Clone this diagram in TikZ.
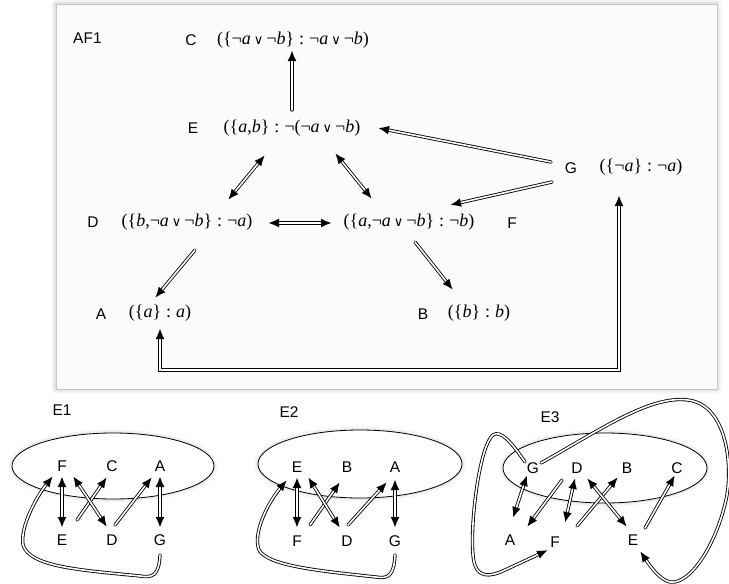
\documentclass[tikz,border=0pt]{standalone}
\usepackage{fontspec}
\setmainfont{Liberation Sans}
\newfontfamily\formfont{Liberation Serif}
\newfontfamily\symfont{DejaVu Sans}
\usetikzlibrary{arrows.meta, calc, shadows.blur}

\newcommand{\ita}{\textit{a}}
\newcommand{\itb}{\textit{b}}
\newcommand{\orop}{\,{\symfont\fontsize{13}{13}\selectfont ∨}\,}
\newcommand{\claimsep}{\;:\;}

\begin{document}
\begin{tikzpicture}[x=1pt, y=-1pt,
    tag/.style={font=\fontsize{15.5}{15.5}\selectfont, inner sep=1pt},
    claim/.style={font=\formfont\fontsize{18}{18}\selectfont, inner sep=1pt},
    frame/.style={draw=gray!45, fill=gray!3, blur shadow={shadow xshift=0pt, shadow yshift=0pt, shadow blur radius=5pt, shadow opacity=30}},
    ring/.style={draw=black, fill=white, line width=0.8pt, blur shadow={shadow xshift=0pt, shadow yshift=0pt, shadow blur radius=4pt, shadow opacity=25}},
    arrow/.style={draw=black, line width=3.3pt, line cap=round, -{Latex[length=11pt,width=9pt]},
        postaction={draw=white, line width=1.6pt, -, shorten >=11.5pt}},
    darrow/.style={draw=black, line width=3.3pt, line cap=round, {Latex[length=11pt,width=9pt]}-{Latex[length=11pt,width=9pt]},
        postaction={draw=white, line width=1.6pt, -, shorten >=11.5pt, shorten <=11.5pt}}
]
\useasboundingbox (0,0) rectangle (729,584);

% argumentation framework
\path[frame] (56,4) rectangle (717,389);
\node[tag, anchor=west] (af) at (72,38) {AF1};

\node[tag] (lC) at (191,40) {C};
\node[claim] (fC) at (293,40) {(\{¬\ita\orop¬\itb\}\claimsep¬\ita\orop¬\itb)};
\node[tag] (lE) at (193,128) {E};
\node[claim] (fE) at (292,128) {(\{\ita,\itb\}\claimsep¬(¬\ita\orop¬\itb)};
\node[tag] (lG) at (571,168) {G};
\node[claim] (fG) at (641,167) {(\{¬\ita\}\claimsep¬\ita)};
\node[tag] (lD) at (93,222) {D};
\node[claim] (fD) at (187,222) {(\{\itb,¬\ita\orop¬\itb\}\claimsep¬\ita)};
\node[claim] (fF) at (409,222) {(\{\ita,¬\ita\orop¬\itb\}\claimsep¬\itb)};
\node[tag] (lF) at (512,223) {F};
\node[tag] (lA) at (101,314) {A};
\node[claim] (fA) at (160,313) {(\{\ita\}\claimsep\ita)};
\node[tag] (lB) at (423,314) {B};
\node[claim] (fB) at (479,313) {(\{\itb\}\claimsep\itb)};

\draw[arrow] ($(fE)+(0,-18)$) -- ($(fC)+(-1,10)$);
\draw[arrow] ($(lG)+(-20,-6)$) -- ($(fE)+(86,0)$);
\draw[arrow] ($(lG)+(-19,14)$) -- ($(fF)+(41,-17)$);
\draw[darrow] ($(fE)+(-27,27)$) -- ($(fD)+(41,-22)$);
\draw[darrow] ($(fE)+(43,25)$) -- ($(fF)+(-37,-23)$);
\draw[darrow] ($(fD)+(81,1)$) -- ($(fF)+(-77,1)$);
\draw[arrow] ($(fD)+(8,28)$) -- ($(fA)+(-5,-15)$);
\draw[arrow] ($(fF)+(6,20)$) -- ($(fB)+(-26,-23)$);
\draw[darrow] ($(fA)+(0,15)$) |- ($(fG)+(-22,203)$) -- ($(fG)+(-22,28)$);

% extension E1
\node[tag] (e1) at (62,410) {E1};
\draw[ring] (113,466) ellipse [x radius=101pt, y radius=33pt];
\node[tag] (a1F) at (62,466) {F};
\node[tag] (a1C) at (112,466) {C};
\node[tag] (a1A) at (160,466) {A};
\node[tag] (a1E) at (62,540) {E};
\node[tag] (a1D) at (112,540) {D};
\node[tag] (a1G) at (160,540) {G};
\draw[darrow] ($(a1F)+(0,10)$) -- ($(a1E)+(0,-12)$);
\draw[arrow] ($(a1E)+(15,-20)$) -- ($(a1C)+(-5,11)$);
\draw[darrow] ($(a1F)+(11,10)$) -- ($(a1D)+(-5,-13)$);
\draw[arrow] ($(a1D)+(3,-15)$) -- ($(a1A)+(-8,11)$);
\draw[darrow] ($(a1A)+(0,10)$) -- ($(a1G)+(0,-12)$);
\draw[arrow] ($(a1G)+(0,15)$) .. controls (159,576) and (152,578) .. (140,576)
    .. controls (80,570) and (30,567) .. (23,545)
    .. controls (20,525) and (38,495) .. ($(a1F)+(-9,10)$);

% extension E2
\node[tag] (e2) at (289,412) {E2};
\draw[ring] (360,464) ellipse [x radius=102pt, y radius=34pt];
\node[tag] (a2E) at (297,467) {E};
\node[tag] (a2B) at (347,467) {B};
\node[tag] (a2A) at (395,467) {A};
\node[tag] (a2F) at (297,541) {F};
\node[tag] (a2D) at (347,541) {D};
\node[tag] (a2G) at (395,541) {G};
\draw[darrow] ($(a2E)+(0,10)$) -- ($(a2F)+(0,-13)$);
\draw[arrow] ($(a2F)+(13,-16)$) -- ($(a2B)+(-7,15)$);
\draw[darrow] ($(a2E)+(11,10)$) -- ($(a2D)+(-7,-13)$);
\draw[arrow] ($(a2D)+(1,-16)$) -- ($(a2A)+(-8,15)$);
\draw[darrow] ($(a2A)+(0,12)$) -- ($(a2G)+(0,-13)$);
\draw[arrow] ($(a2G)+(0,14)$) .. controls (394,576) and (388,579) .. (376,577)
    .. controls (320,571) and (268,566) .. (259,550)
    .. controls (252,532) and (270,500) .. ($(a2E)+(-10,13)$);

% extension E3
\node[tag] (e3) at (550,417) {E3};
\draw[ring] (605,468) ellipse [x radius=102pt, y radius=35pt];
\node[tag] (a3G) at (533,468) {G};
\node[tag] (a3D) at (577,468) {D};
\node[tag] (a3B) at (627,468) {B};
\node[tag] (a3C) at (677,468) {C};
\node[tag] (a3A) at (510,540) {A};
\node[tag] (a3F) at (555,542) {F};
\node[tag] (a3E) at (633,540) {E};
\draw[darrow] ($(a3G)+(-6,7)$) -- ($(a3A)+(3,-22)$);
\draw[arrow] ($(a3D)+(-15,12)$) -- ($(a3A)+(17,-13)$);
\draw[darrow] ($(a3D)+(-2,10)$) -- ($(a3F)+(10,-19)$);
\draw[arrow] ($(a3F)+(22,-16)$) -- ($(a3B)+(-9,9)$);
\draw[darrow] ($(a3D)+(10,10)$) -- ($(a3E)+(-6,-13)$);
\draw[arrow] ($(a3E)+(12,-12)$) -- ($(a3C)+(-2,7)$);
\draw[arrow] ($(a3G)+(8,-5)$) .. controls (600,430) and (650,395) .. (688,400)
    .. controls (728,405) and (733,468) .. (726,500)
    .. controls (716,545) and (690,585) .. (670,582)
    .. controls (660,580) and (650,566) .. ($(a3E)+(7,11)$);
\draw[arrow] ($(a3G)+(-8,-6)$) .. controls (510,440) and (500,430) .. (493,435)
    .. controls (480,445) and (470,520) .. (473,555)
    .. controls (475,580) and (490,577) .. (505,570)
    -- ($(a3F)+(-7,8)$);
\end{tikzpicture}
\end{document}
